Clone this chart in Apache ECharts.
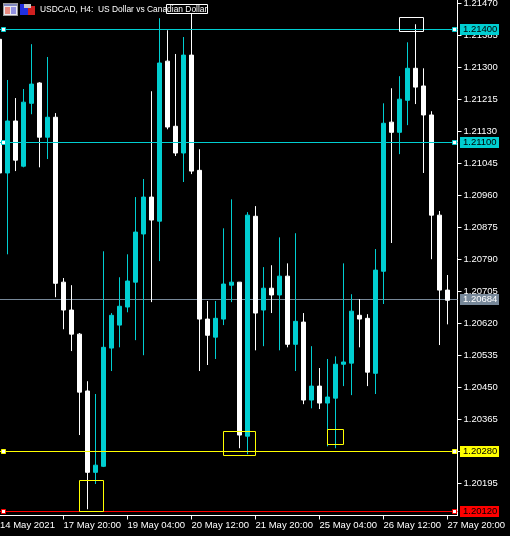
<!DOCTYPE html>
<html><head><meta charset="utf-8">
<style>html,body{margin:0;padding:0;background:#000}#c{width:510px;height:536px}</style>
<script src="https://cdn.jsdelivr.net/npm/echarts@6/dist/echarts.min.js"></script>
</head><body><div id="c"></div>
<script>
const title = 'USDCAD, H4:  US Dollar vs Canadian Dollar';
const opens  = [1.21374,1.21019,1.21157,1.21037,1.21204,1.21258,1.21114,1.21167,1.20729,1.20655,1.20591,1.20440,1.20224,1.20240,1.20554,1.20615,1.20663,1.20729,1.20857,1.20955,1.20891,1.21316,1.21143,1.21072,1.21332,1.21026,1.20631,1.20583,1.20631,1.20721,1.20729,1.20320,1.20904,1.20655,1.20713,1.20695,1.20745,1.20564,1.20623,1.20416,1.20453,1.20408,1.20421,1.20511,1.20514,1.20641,1.20633,1.20487,1.20758,1.21154,1.21127,1.21212,1.21297,1.21250,1.21173,1.20907,1.20708];
const closes = [1.21019,1.21157,1.21053,1.21207,1.21255,1.21114,1.21167,1.20726,1.20655,1.20591,1.20437,1.20224,1.20243,1.20556,1.20641,1.20665,1.20732,1.20862,1.20955,1.20894,1.21311,1.21141,1.21072,1.21332,1.21024,1.20631,1.20588,1.20633,1.20724,1.20729,1.20323,1.20907,1.20647,1.20713,1.20695,1.20745,1.20564,1.20625,1.20416,1.20453,1.20408,1.20424,1.20511,1.20517,1.20652,1.20631,1.20490,1.20761,1.21151,1.21127,1.21215,1.21297,1.21247,1.21173,1.20907,1.20708,1.20681];
const lows   = [1.21019,1.20803,1.21024,1.21034,1.21175,1.21034,1.21056,1.20689,1.20604,1.20546,1.20323,1.20126,1.20193,1.20238,1.20493,1.20556,1.20649,1.20575,1.20535,1.20676,1.20785,1.21135,1.21064,1.20995,1.21016,1.20493,1.20509,1.20525,1.20615,1.20676,1.20288,1.20272,1.20548,1.20559,1.20647,1.20548,1.20556,1.20493,1.20405,1.20394,1.20392,1.20293,1.20288,1.20453,1.20429,1.20556,1.20453,1.20432,1.20671,1.20833,1.21069,1.21146,1.21202,1.21019,1.20790,1.20562,1.20617];
const highs  = [1.21374,1.21266,1.21218,1.21242,1.21361,1.21260,1.21327,1.21178,1.20740,1.20721,1.20594,1.20466,1.20432,1.20811,1.20647,1.20742,1.20803,1.20955,1.21003,1.21236,1.21430,1.21398,1.21335,1.21380,1.21443,1.21082,1.20679,1.20679,1.20872,1.20949,1.20729,1.20915,1.20931,1.20769,1.20774,1.20848,1.20779,1.20859,1.20647,1.20559,1.20501,1.20525,1.20532,1.20779,1.20697,1.20684,1.20644,1.20817,1.21204,1.21244,1.21276,1.21366,1.21414,1.21297,1.21183,1.20918,1.20748];
const priceTicks = [1.21470,1.21385,1.21300,1.21215,1.21130,1.21045,1.20960,1.20875,1.20790,1.20705,1.20620,1.20535,1.20450,1.20365,1.20280,1.20195];
const timeTickIndex = [8,16,24,32,40,48,56];
const timeLabelIndex = [0,8,16,24,32,40,48,56];
const timeLabels = ['14 May 2021','17 May 20:00','19 May 04:00','20 May 12:00','21 May 20:00','25 May 04:00','26 May 12:00','27 May 20:00'];
const levelPrices = [1.21400,1.21100,1.20280,1.20120,1.20684];
const levelColors = ['#00ced1','#00ced1','#ffff00','#ff0000','#778899'];
const levelText   = ['#000','#000','#000','#000','#fff'];
const levelHandle = [true,true,true,true,false];
const boxStart = [20.875,50,10,28,41];
const boxEnd   = [26,53,13,32,43];
const boxTop   = [1.21467,1.21432,1.20202,1.20332,1.20337];
const boxBottom= [1.21443,1.21394,1.20120,1.20268,1.20297];
const boxColors= ['#ffffff','#ffffff','#ffff00','#ffff00','#ffff00'];

const TEAL='#00ced1', FONT='"Liberation Sans",Arial,sans-serif', PF=9.5, DF=9.5;
const xMin=0.0625, xMax=57.25, yMax=1.2147834, yMin=1.2010937;
const candles = opens.map((o,i)=>[i,o,closes[i],lows[i],highs[i]]);

const lineSeries = (indices,z)=>({type:'custom',coordinateSystem:'cartesian2d',clip:false,z,silent:true,
  data:indices.map(i=>[xMin,levelPrices[i],i]),encode:{x:0,y:1},
  renderItem:(p,api)=>{
    const i=api.value(2), y=Math.floor(api.coord([xMin,api.value(1)])[1])+0.5, cs=p.coordSys;
    return {type:'line',shape:{x1:cs.x,y1:y,x2:cs.x+cs.width,y2:y},style:{stroke:levelColors[i],lineWidth:1}};
  }});

const chart = echarts.init(document.getElementById('c'),null,{renderer:'canvas'});
const icon = (x,y,w,h,fill)=>({type:'rect',shape:{x,y,width:w,height:h},style:{fill},silent:true,z:20});
chart.setOption({
  animation:false,backgroundColor:'#000',
  grid:{left:0,right:52.5,top:0,bottom:20.5,containLabel:false,outerBoundsMode:'none'},
  xAxis:{type:'value',min:xMin,max:xMax,containShape:false,splitLine:{show:false},
    axisLine:{show:true,onZero:false,lineStyle:{color:'#fff',width:1}},
    axisTick:{show:true,customValues:timeTickIndex,length:4,lineStyle:{color:'#fff'}},
    axisLabel:{customValues:[xMin].concat(timeTickIndex),color:'#fff',fontFamily:FONT,fontSize:DF,align:'left',margin:5,showMinLabel:true,showMaxLabel:true,hideOverlap:false,
      formatter:v=>{const k=v===xMin?0:timeLabelIndex.indexOf(v);return timeLabels[k]||'';}}},
  yAxis:{type:'value',position:'right',min:yMin,max:yMax,splitLine:{show:false},
    axisLine:{show:true,onZero:false,lineStyle:{color:'#fff',width:1}},
    axisTick:{show:true,customValues:priceTicks,length:4,lineStyle:{color:'#fff'}},
    axisLabel:{customValues:priceTicks,color:'#fff',fontFamily:FONT,fontSize:PF,margin:6,showMinLabel:true,showMaxLabel:true,hideOverlap:false,formatter:v=>v.toFixed(5)}},
  graphic:{elements:[
    icon(3,3,15,13,'#9a9a9a'),icon(4,4,13,11,'#e8e8f0'),icon(4,4,13,2,'#8088c0'),icon(5,7,5,7,'#e88a80'),icon(11,7,5,7,'#9090e0'),
    icon(20,4,8,11,'#2030e0'),icon(28,6,7,9,'#d02020'),icon(24,4,7,4,'#c8c8c8'),
    {type:'text',x:40,y:9.5,scaleX:0.885,silent:true,z:21,style:{text:title,fill:'#fff',font:'9.5px '+FONT,textAlign:'left',textVerticalAlign:'middle'}}]},
  series:[
    lineSeries([4],1),
    {type:'candlestick',data:candles,barWidth:4,clip:true,z:3,
      itemStyle:{color:TEAL,color0:'#fff',borderColor:TEAL,borderColor0:'#fff',borderWidth:1}},
    lineSeries([0,1,2,3],4),
    {type:'custom',coordinateSystem:'cartesian2d',clip:false,z:5,silent:true,
      data:boxStart.map((s,i)=>[s,boxTop[i],boxEnd[i],boxBottom[i],i]),
      encode:{x:[0,2],y:[1,3]},
      renderItem:(p,api)=>{
        const a=api.coord([api.value(0),api.value(1)]),b=api.coord([api.value(2),api.value(3)]);
        const x=Math.floor(a[0])+0.5,y=Math.floor(a[1])+0.5;
        return {type:'rect',shape:{x,y,width:Math.round(b[0]-a[0]),height:Math.round(b[1]-a[1])},
          style:{fill:'none',stroke:boxColors[api.value(4)],lineWidth:1}};
      }},
    {type:'custom',coordinateSystem:'cartesian2d',clip:false,z:6,silent:true,
      data:levelPrices.map((v,i)=>[xMin,v,i]),
      encode:{x:0,y:1},
      renderItem:(p,api)=>{
        const i=api.value(2), c=levelColors[i], row=Math.floor(api.coord([xMin,api.value(1)])[1]), cs=p.coordSys, R=cs.x+cs.width;
        const kids=[
          {type:'rect',shape:{x:460,y:row-5,width:39,height:11},style:{fill:c}},
          {type:'text',style:{text:levelPrices[i].toFixed(5),x:463,y:row+0.5,fill:levelText[i],font:PF+'px '+FONT,textAlign:'left',textVerticalAlign:'middle'}}];
        if(levelHandle[i]){
          kids.push({type:'rect',shape:{x:1.5,y:row-1.5,width:4,height:4},style:{fill:'#fff',stroke:c,lineWidth:1}});
          kids.push({type:'rect',shape:{x:R-5,y:row-1.5,width:4,height:4},style:{fill:'#fff',stroke:c,lineWidth:1}});
        }
        return {type:'group',children:kids};
      }}
  ]
});
</script></body></html>
